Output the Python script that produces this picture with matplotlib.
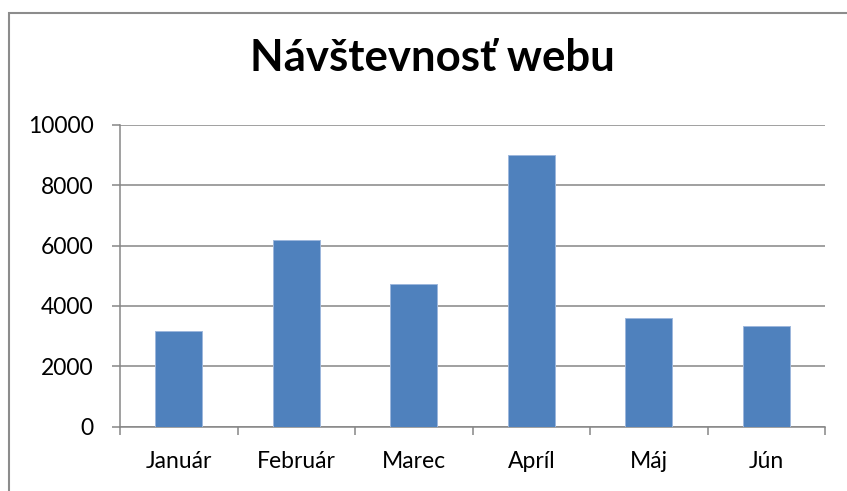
import matplotlib
matplotlib.use("Agg")
import matplotlib.pyplot as plt
from matplotlib.patches import Rectangle

categories = ["Január", "Február", "Marec", "Apríl", "Máj", "Jún"]
visits = [3170, 6200, 4720, 9000, 3590, 3330]
yticks = [0, 2000, 4000, 6000, 8000, 10000]
title = "Návštevnosť webu"

plt.rcParams['font.family'] = ['Lato', 'DejaVu Sans']

W, H = 847, 491
fig = plt.figure(figsize=(W / 100, H / 100), dpi=100)
fig.patch.set_facecolor("white")

ax = fig.add_axes([120 / W, 1 - 426.5 / H, (825 - 120) / W, (426.5 - 125) / H])
x = list(range(len(categories)))
ax.bar(x, visits, width=0.4, color="#4F81BD", edgecolor="#9DB7DC", linewidth=0.7, zorder=3)

grid_c = "#868686"
ax.set_xlim(-0.5, len(categories) - 0.5)
ax.set_ylim(0, 10000)
ax.set_yticks(yticks)
ax.set_yticklabels([str(v) for v in yticks])
ax.yaxis.grid(True, color=grid_c, linewidth=1.1, zorder=0)
ax.set_axisbelow(True)

ax.set_xticks([i - 0.5 for i in range(len(categories) + 1)])
ax.set_xticklabels([])
ax.set_xticks(x, minor=True)
ax.set_xticklabels(categories, minor=True)
ax.tick_params(axis="x", which="minor", length=0, pad=18, labelsize=16.5)
ax.tick_params(axis="x", which="major", length=6, width=1.1, color=grid_c)
ax.tick_params(axis="y", length=6, width=1.1, color=grid_c, pad=13, labelsize=16.5)

for s in ["top", "right"]:
    ax.spines[s].set_visible(False)
for s in ["left", "bottom"]:
    ax.spines[s].set_color(grid_c)
    ax.spines[s].set_linewidth(1.1)

fig.text(432 / W, 1 - 70.7 / H, title, ha="center", va="baseline",
         fontsize=31.5, fontweight="bold")

border = Rectangle((9 / W, -0.1), 1.2, 1 - 13 / H + 0.1, transform=fig.transFigure,
                   fill=False, edgecolor="#8c8c8c", linewidth=1.5, clip_on=False)
fig.patches.append(border)

fig.savefig("out.png", dpi=100)
